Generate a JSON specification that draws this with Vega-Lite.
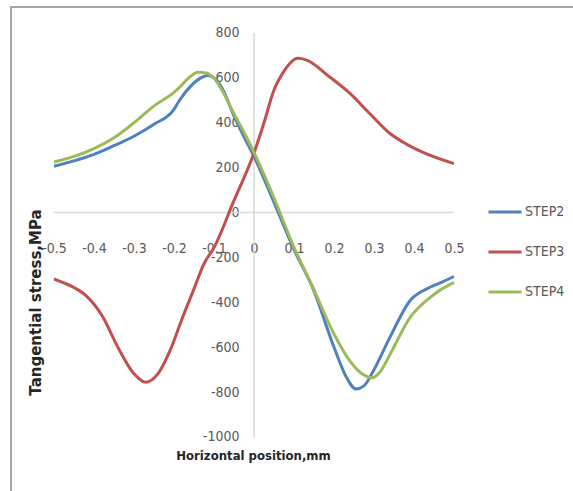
{
  "$schema": "https://vega.github.io/schema/vega-lite/v6.json",
  "width": 562,
  "height": 484,
  "autosize": {"type": "none"},
  "padding": {"left": 11, "top": 7, "right": 0, "bottom": 0},
  "background": "white",
  "config": {
    "view": {"stroke": "#a6a6a6", "strokeWidth": 2, "strokeDash": [562, 1046, 484]},
    "axis": {"grid": false}
  },
  "datasets": {
    "stress": [
      {"pos": -0.5, "stress": 206, "step": "STEP2"},
      {"pos": -0.45, "stress": 230, "step": "STEP2"},
      {"pos": -0.4, "stress": 259, "step": "STEP2"},
      {"pos": -0.35, "stress": 298, "step": "STEP2"},
      {"pos": -0.3, "stress": 340, "step": "STEP2"},
      {"pos": -0.25, "stress": 393, "step": "STEP2"},
      {"pos": -0.2, "stress": 460, "step": "STEP2"},
      {"pos": -0.187, "stress": 498, "step": "STEP2"},
      {"pos": -0.16, "stress": 560, "step": "STEP2"},
      {"pos": -0.135, "stress": 598, "step": "STEP2"},
      {"pos": -0.115, "stress": 611, "step": "STEP2"},
      {"pos": -0.1, "stress": 600, "step": "STEP2"},
      {"pos": -0.08, "stress": 555, "step": "STEP2"},
      {"pos": -0.05, "stress": 430, "step": "STEP2"},
      {"pos": -0.02, "stress": 320, "step": "STEP2"},
      {"pos": 0, "stress": 250, "step": "STEP2"},
      {"pos": 0.05, "stress": 45, "step": "STEP2"},
      {"pos": 0.1, "stress": -165, "step": "STEP2"},
      {"pos": 0.15, "stress": -350, "step": "STEP2"},
      {"pos": 0.2, "stress": -600, "step": "STEP2"},
      {"pos": 0.23, "stress": -730, "step": "STEP2"},
      {"pos": 0.255, "stress": -786, "step": "STEP2"},
      {"pos": 0.275, "stress": -772, "step": "STEP2"},
      {"pos": 0.3, "stress": -700, "step": "STEP2"},
      {"pos": 0.34, "stress": -555, "step": "STEP2"},
      {"pos": 0.39, "stress": -393, "step": "STEP2"},
      {"pos": 0.44, "stress": -333, "step": "STEP2"},
      {"pos": 0.47, "stress": -310, "step": "STEP2"},
      {"pos": 0.5, "stress": -285, "step": "STEP2"},

      {"pos": -0.5, "stress": -295, "step": "STEP3"},
      {"pos": -0.48, "stress": -310, "step": "STEP3"},
      {"pos": -0.45, "stress": -334, "step": "STEP3"},
      {"pos": -0.42, "stress": -370, "step": "STEP3"},
      {"pos": -0.38, "stress": -459, "step": "STEP3"},
      {"pos": -0.34, "stress": -601, "step": "STEP3"},
      {"pos": -0.3, "stress": -718, "step": "STEP3"},
      {"pos": -0.27, "stress": -756, "step": "STEP3"},
      {"pos": -0.24, "stress": -718, "step": "STEP3"},
      {"pos": -0.21, "stress": -615, "step": "STEP3"},
      {"pos": -0.18, "stress": -474, "step": "STEP3"},
      {"pos": -0.15, "stress": -340, "step": "STEP3"},
      {"pos": -0.125, "stress": -228, "step": "STEP3"},
      {"pos": -0.1, "stress": -156, "step": "STEP3"},
      {"pos": -0.05, "stress": 54, "step": "STEP3"},
      {"pos": 0, "stress": 265, "step": "STEP3"},
      {"pos": 0.025, "stress": 400, "step": "STEP3"},
      {"pos": 0.05, "stress": 546, "step": "STEP3"},
      {"pos": 0.075, "stress": 630, "step": "STEP3"},
      {"pos": 0.09, "stress": 665, "step": "STEP3"},
      {"pos": 0.11, "stress": 687, "step": "STEP3"},
      {"pos": 0.13, "stress": 680, "step": "STEP3"},
      {"pos": 0.19, "stress": 603, "step": "STEP3"},
      {"pos": 0.24, "stress": 531, "step": "STEP3"},
      {"pos": 0.29, "stress": 440, "step": "STEP3"},
      {"pos": 0.34, "stress": 352, "step": "STEP3"},
      {"pos": 0.38, "stress": 306, "step": "STEP3"},
      {"pos": 0.43, "stress": 262, "step": "STEP3"},
      {"pos": 0.5, "stress": 218, "step": "STEP3"},

      {"pos": -0.5, "stress": 225, "step": "STEP4"},
      {"pos": -0.45, "stress": 250, "step": "STEP4"},
      {"pos": -0.4, "stress": 285, "step": "STEP4"},
      {"pos": -0.35, "stress": 333, "step": "STEP4"},
      {"pos": -0.3, "stress": 400, "step": "STEP4"},
      {"pos": -0.25, "stress": 475, "step": "STEP4"},
      {"pos": -0.2, "stress": 535, "step": "STEP4"},
      {"pos": -0.185, "stress": 560, "step": "STEP4"},
      {"pos": -0.16, "stress": 605, "step": "STEP4"},
      {"pos": -0.14, "stress": 625, "step": "STEP4"},
      {"pos": -0.12, "stress": 622, "step": "STEP4"},
      {"pos": -0.1, "stress": 598, "step": "STEP4"},
      {"pos": -0.08, "stress": 545, "step": "STEP4"},
      {"pos": -0.05, "stress": 440, "step": "STEP4"},
      {"pos": -0.02, "stress": 340, "step": "STEP4"},
      {"pos": 0, "stress": 268, "step": "STEP4"},
      {"pos": 0.05, "stress": 65, "step": "STEP4"},
      {"pos": 0.1, "stress": -155, "step": "STEP4"},
      {"pos": 0.145, "stress": -325, "step": "STEP4"},
      {"pos": 0.2, "stress": -541, "step": "STEP4"},
      {"pos": 0.24, "stress": -662, "step": "STEP4"},
      {"pos": 0.273, "stress": -722, "step": "STEP4"},
      {"pos": 0.294, "stress": -736, "step": "STEP4"},
      {"pos": 0.315, "stress": -710, "step": "STEP4"},
      {"pos": 0.34, "stress": -632, "step": "STEP4"},
      {"pos": 0.39, "stress": -468, "step": "STEP4"},
      {"pos": 0.44, "stress": -379, "step": "STEP4"},
      {"pos": 0.47, "stress": -340, "step": "STEP4"},
      {"pos": 0.5, "stress": -312, "step": "STEP4"}
    ]
  },
  "layer": [
    {
      "description": "vertical axis line through x = 0",
      "data": {"values": [{"x": 0, "y": -1000, "y2": 800}]},
      "mark": {"type": "rule", "color": "#d9d9d9", "strokeWidth": 1.5},
      "encoding": {
        "x": {"field": "x", "type": "quantitative", "title": "Horizontal position,mm", "scale": {"domain": [-0.6075, 0.7975], "nice": false, "zero": false}},
        "y": {"field": "y", "type": "quantitative", "title": "Tangential stress,MPa", "scale": {"domain": [-1240.6, 915.8], "nice": false, "zero": false}},
        "y2": {"field": "y2"}
      }
    },
    {
      "description": "horizontal axis line through y = 0",
      "data": {"values": [{"x": -0.5, "x2": 0.5, "y": 0}]},
      "mark": {"type": "rule", "color": "#d9d9d9", "strokeWidth": 1.5},
      "encoding": {
        "x": {"field": "x", "type": "quantitative", "title": "Horizontal position,mm", "scale": {"domain": [-0.6075, 0.7975], "nice": false, "zero": false}},
        "x2": {"field": "x2"},
        "y": {"field": "y", "type": "quantitative", "title": "Tangential stress,MPa", "scale": {"domain": [-1240.6, 915.8], "nice": false, "zero": false}}
      }
    },
    {
      "data": {"name": "stress"},
      "mark": {"type": "line", "interpolate": "monotone", "strokeWidth": 3},
      "encoding": {
        "x": {
          "field": "pos", "type": "quantitative",
          "title": "Horizontal position,mm",
          "scale": {"domain": [-0.6075, 0.7975], "nice": false, "zero": false},
          "axis": {
            "values": [-0.5, -0.4, -0.3, -0.2, -0.1, 0, 0.1, 0.2, 0.3, 0.4, 0.5],
            "format": ".1~f",
            "labelExpr": "replace(datum.label, '\u2212', '-')",
            "domain": false, "ticks": false,
            "offset": -279,
            "labelPadding": 29,
            "labelFont": "DejaVu Sans Condensed, Liberation Sans, sans-serif",
            "labelFontSize": 14,
            "labelColor": "#595959",
            "titleX": 242, "titleY": 243,
            "titleAlign": "center", "titleBaseline": "middle",
            "titleFont": "DejaVu Sans Condensed, Liberation Sans, sans-serif",
            "titleFontSize": 13,
            "titleFontWeight": "bold",
            "titleColor": "#262626"
          }
        },
        "y": {
          "field": "stress", "type": "quantitative",
          "title": "Tangential stress,MPa",
          "scale": {"domain": [-1240.6, 915.8], "nice": false, "zero": false},
          "axis": {
            "values": [-1000, -800, -600, -400, -200, 0, 200, 400, 600, 800],
            "format": "d",
            "labelExpr": "replace(datum.label, '\u2212', '-')",
            "domain": false, "ticks": false,
            "offset": -243,
            "labelPadding": 15,
            "labelFont": "DejaVu Sans Condensed, Liberation Sans, sans-serif",
            "labelFontSize": 14,
            "labelColor": "#595959",
            "titleX": -219, "titleY": 295,
            "titleAngle": -90,
            "titleAlign": "center", "titleBaseline": "middle",
            "titleFont": "DejaVu Sans",
            "titleFontSize": 15,
            "titleFontWeight": "bold",
            "titleColor": "#262626"
          }
        },
        "color": {
          "field": "step", "type": "nominal",
          "scale": {"domain": ["STEP2", "STEP3", "STEP4"], "range": ["#4F81BD", "#C0504D", "#9BBB59"]},
          "legend": {
            "orient": "none",
            "legendX": 476, "legendY": 187,
            "title": null,
            "padding": 0,
            "symbolType": "stroke",
            "symbolSize": 1089,
            "symbolStrokeWidth": 3,
            "labelFont": "DejaVu Sans Condensed, Liberation Sans, sans-serif",
            "labelFontSize": 14,
            "labelColor": "#595959",
            "labelOffset": 2,
            "rowPadding": 15
          }
        }
      }
    }
  ]
}
